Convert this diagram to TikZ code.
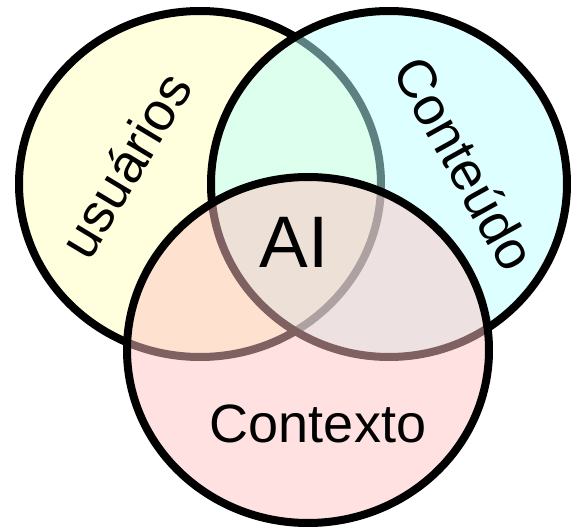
\documentclass[tikz,border=0pt]{standalone}
\usepackage{fontspec}
\setmainfont{Liberation Sans}
\definecolor{userfill}{RGB}{255,255,187}
\definecolor{contentfill}{RGB}{187,255,255}
\definecolor{contextfill}{RGB}{255,195,195}
\begin{document}
\begin{tikzpicture}[x=1pt,y=-1pt,
    setcircle/.style={draw=black,line width=8pt,fill opacity=0.5},
    setlabel/.style={font=\fontsize{54}{60}\selectfont,inner sep=0pt}]
                    \useasboundingbox (0,0) rectangle (571,527);
                    % three sets, drawn back to front
                    \draw[setcircle,fill=userfill] (200,184) ellipse [x radius=181pt, y radius=173pt];
                    \draw[setcircle,fill=contentfill] (389,184) ellipse [x radius=178pt, y radius=173pt];
                    \draw[setcircle,fill=contextfill] (308,350) ellipse [x radius=181pt, y radius=173pt];

                    \node[setlabel,rotate=59] (users) at (125,165) {usuários};
                    \node[setlabel,rotate=-61] (content) at (465,163) {Conteúdo};
                    \node[setlabel] (context) at (318,424) {Contexto};
                    \node[setlabel,font=\fontsize{73}{80}\selectfont] (ai) at (294,242) {AI};
                \end{tikzpicture}
\end{document}
